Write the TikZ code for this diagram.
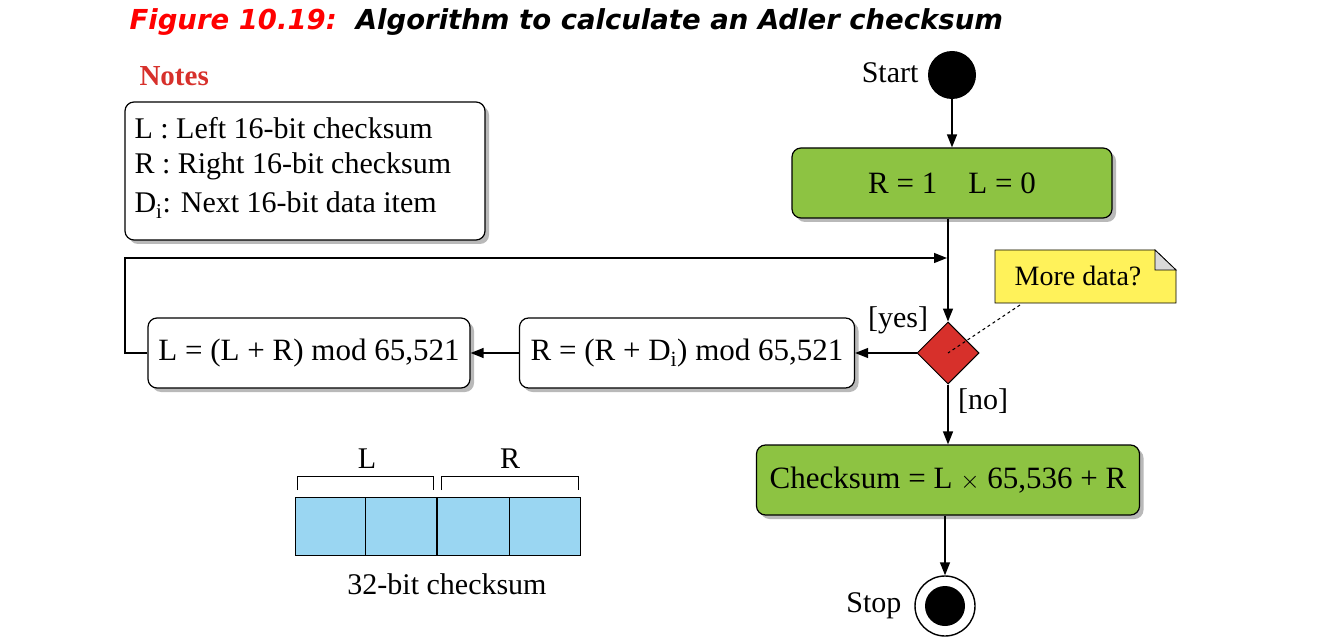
\documentclass[tikz,border=0pt]{standalone}
\usepackage{fontspec}
\setmainfont{Liberation Serif}
\newfontfamily\ttl{DejaVu Sans}
\usetikzlibrary{shapes.geometric,shadows,arrows.meta}
\definecolor{grn}{HTML}{8DC342}
\definecolor{dred}{HTML}{D7302B}
\definecolor{yel}{HTML}{FFF25A}
\definecolor{blu}{HTML}{9AD6F2}
\begin{document}
\begin{tikzpicture}[x=1pt,y=-1pt,
  box/.style={draw,line width=1.2pt,rounded corners=9pt,drop shadow={shadow xshift=4pt,shadow yshift=-4pt,fill=black!55},font=\fontsize{31}{36}\selectfont,inner sep=0pt},
  gbox/.style={box,fill=grn},
  wbox/.style={box,fill=white},
  arr/.style={line width=1.4pt,-{Triangle[length=13pt,width=10pt]}},
  lbl/.style={font=\fontsize{30}{34}\selectfont}]
\useasboundingbox (0,0) rectangle (1322,644);
\node[anchor=west,font=\ttl\bfseries\itshape\fontsize{27.5}{32}\selectfont] (title) at (126,22) {\textcolor{red}{Figure 10.19:}\ \ Algorithm to calculate an Adler checksum};
\node[anchor=west,text=dred,font=\bfseries\fontsize{29}{34}\selectfont] (notes) at (136,76) {Notes};
\node[wbox,minimum width=360pt,minimum height=138pt] (nbox) at (305,171) {};
\node[lbl,anchor=west] (n1) at (131,128) {L : Left 16-bit checksum};
\node[lbl,anchor=west] (n2) at (131,166) {R : Right 16-bit checksum};
\node[lbl,anchor=west] (n3) at (131,205) {D\textsubscript{i}: Next 16-bit data item};
\node[circle,fill=black,minimum size=48pt,inner sep=0] (start) at (952,75) {};
\node[lbl,anchor=east] (st) at (922,73) {Start};
\node[gbox,minimum width=320pt,minimum height=70pt] (init) at (952,183) {R = 1\quad L = 0};
\node[diamond,fill=dred,draw,line width=1pt,minimum width=62pt,minimum height=62pt,inner sep=0] (dec) at (948,353) {};
\coordinate (join) at (948,258);
\node[wbox,minimum width=335pt,minimum height=70pt] (rbox) at (687,353) {R = (R + D\textsubscript{i}) mod 65,521};
\node[wbox,minimum width=322pt,minimum height=70pt] (lbox) at (309,353) {L = (L + R) mod 65,521};
\node[gbox,minimum width=383pt,minimum height=70pt] (cbox) at (948,480) {Checksum = L $\times$ 65,536 + R};
\node[circle,draw,line width=1.4pt,fill=white,minimum size=60pt,inner sep=0] (stop) at (945,606) {};
\node[circle,fill=black,minimum size=40pt,inner sep=0] (stopin) at (945,606) {};
\node[lbl,anchor=east] (sp) at (905,606) {Stop};
\node[lbl] (yes) at (898,320) {[yes]};
\node[lbl] (no) at (983,401) {[no]};
\draw[line width=0.8pt,fill=yel] (995,250) -- (1155,250) -- (1176,270) -- (1176,303) -- (995,303) -- cycle;
\draw[line width=0.8pt,fill=black!15] (1155,250) -- (1176,270) -- (1155,270) -- cycle;
\node[lbl,font=\fontsize{28}{32}\selectfont] (more) at (1078,276) {More data?};
\draw[dashed,line width=1pt] (1020,305) -- (dec.center);
\draw[arr] (start) -- (init);
\draw[line width=1.4pt] (init.south -| join) -- (join);
\draw[arr] (join) -- (dec.north);
\draw[arr] (dec.west) -- (rbox.east);
\draw[arr] (rbox.west) -- (lbox.east);
\draw[line width=1.4pt] (lbox.west) -- (125,353) -- (125,258) -- (900,258);
\draw[arr] (900,258) -- ([xshift=-1pt]join);
\draw[arr] (dec.south) -- (cbox.north);
\draw[arr] (cbox.south -| stop) -- (stop.north);
% register
\foreach \a/\b [count=\i] in {295/365,365/437,437/509,509/580}
  \node[draw,fill=blu,line width=1pt,minimum width=\b-\a,minimum height=58pt,inner sep=0] (c\i) at ({(\a+\b)/2},526) {};
\draw[line width=2.5pt] (437,497) -- (437,555);
\draw[line width=1pt] (297,490) -- (297,476) -- (433,476) -- (433,490);
\draw[line width=1pt] (441,490) -- (441,476) -- (578,476) -- (578,490);
\node[lbl] (lL) at (367,459) {L};
\node[lbl] (lR) at (510,459) {R};
\node[lbl] (reg) at (447,584) {32-bit checksum};
\end{tikzpicture}
\end{document}
